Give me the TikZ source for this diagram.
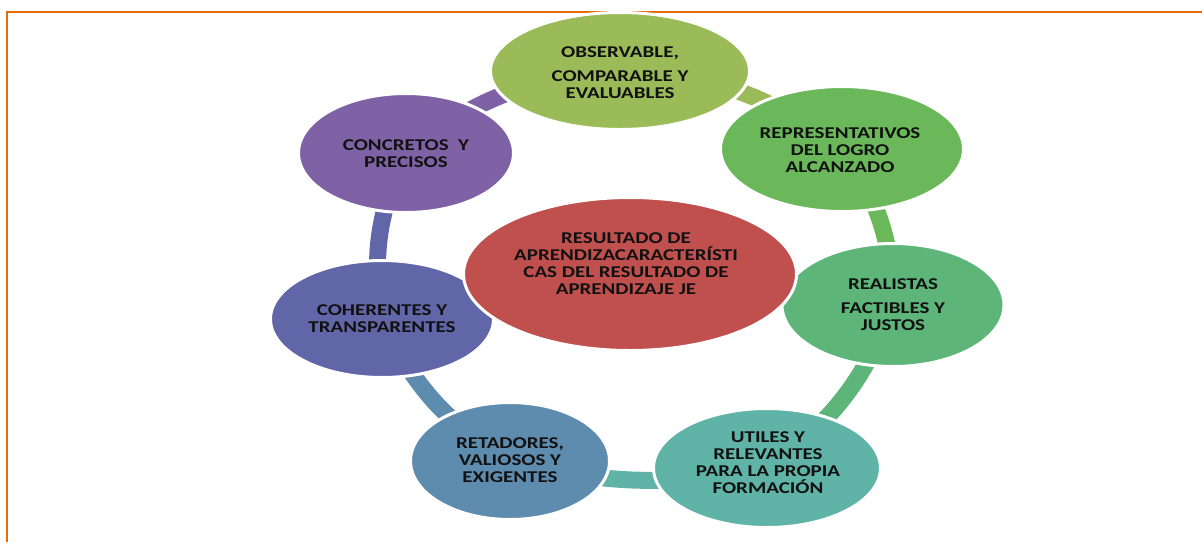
\documentclass[tikz,border=0pt]{standalone}
\usepackage{fontspec}
\setmainfont{Carlito}
\newfontfamily\lblfont{Carlito}[FakeStretch=1.27]
\usetikzlibrary{shapes.geometric,backgrounds}
\definecolor{cobs}{HTML}{9BBB59}
\definecolor{crep}{HTML}{6AB85A}
\definecolor{creal}{HTML}{5DB57A}
\definecolor{cutil}{HTML}{5FB3A7}
\definecolor{cret}{HTML}{5E8CAF}
\definecolor{ccoh}{HTML}{6166A9}
\definecolor{ccon}{HTML}{7F62A6}
\definecolor{cres}{HTML}{C0504D}
\definecolor{frame}{HTML}{E46C0A}
\definecolor{ink}{HTML}{111111}
\begin{document}
\begin{tikzpicture}[x=1pt,y=-1pt,
  bubble/.style={ellipse,draw=white,line width=3pt,inner sep=0pt},
  lbl/.style={align=center,font=\lblfont\fontsize{16.5}{17}\selectfont\bfseries,text=ink,inner sep=0pt},
  band/.style={line width=17pt}]
\useasboundingbox (0,0) rectangle (1202,542);
\draw[frame,line width=2.5pt] (7,542) -- (7,12) -- (1202,12);
% ring ellipses
\node[bubble,fill=cobs,minimum width=259pt,minimum height=117pt] (obs) at (620,71) {};
\node[bubble,fill=crep,minimum width=243pt,minimum height=125pt] (rep) at (842,149) {};
\node[bubble,fill=creal,minimum width=222pt,minimum height=123pt] (real) at (893,305) {};
\node[bubble,fill=cutil,minimum width=227pt,minimum height=119pt] (util) at (767,468) {};
\node[bubble,fill=cret,minimum width=199pt,minimum height=117pt] (ret) at (510,461) {};
\node[bubble,fill=ccoh,minimum width=223pt,minimum height=117pt] (coh) at (382,319) {};
\node[bubble,fill=ccon,minimum width=215pt,minimum height=119pt] (con) at (406,153) {};
% connector bands
\begin{pgfonlayer}{background}
\draw[band,draw=cobs] (obs.center) to[bend left=17] (rep.center);
\draw[band,draw=crep] (rep.center) to[bend left=17] (real.center);
\draw[band,draw=creal] (real.center) to[bend left=17] (util.center);
\draw[band,draw=cutil] (util.center) to[bend left=12] (ret.center);
\draw[band,draw=cret] (ret.center) to[bend left=17] (coh.center);
\draw[band,draw=ccoh] (coh.center) to[bend left=17] (con.center);
\draw[band,draw=ccon] (con.center) to[bend left=17] (obs.center);
\end{pgfonlayer}
% centre
\node[bubble,fill=cres,minimum width=333pt,minimum height=153pt] (res) at (630,274) {};
% labels
\node[lbl] (obsT) at (620,73) {OBSERVABLE,\\[7pt]COMPARABLE Y\\EVALUABLES};
\node[lbl] (repT) at (840,150) {REPRESENTATIVOS\\DEL LOGRO\\ALCANZADO};
\node[lbl] (realT) at (893,304.5) {REALISTAS\\[7pt]FACTIBLES Y\\JUSTOS};
\node[lbl] (utilT) at (768,462.5) {UTILES Y\\RELEVANTES\\PARA LA PROPIA\\FORMACIÓN};
\node[lbl] (retT) at (510,460) {RETADORES,\\VALIOSOS Y\\EXIGENTES};
\node[lbl] (cohT) at (382,318.5) {COHERENTES Y\\TRANSPARENTES};
\node[lbl] (conT) at (406,153.5) {CONCRETOS\ \ Y\\PRECISOS};
\node[lbl] (resT) at (626,264) {RESULTADO DE\\APRENDIZACARACTERÍSTI\\CAS DEL RESULTADO DE\\APRENDIZAJE JE};
\end{tikzpicture}
\end{document}
